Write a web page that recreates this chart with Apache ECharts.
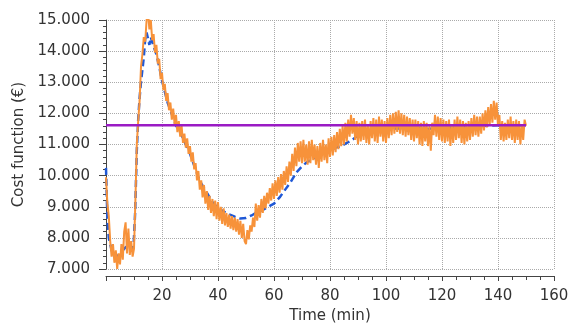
<!DOCTYPE html>
<html>
<head>
<meta charset="utf-8">
<script src="https://cdn.jsdelivr.net/npm/echarts@6/dist/echarts.min.js"></script>
<style>
  html, body { margin: 0; padding: 0; background: #fff; }
  #chart { width: 569px; height: 324px; }
</style>
</head>
<body>
<div id="chart"></div>
<script>
// time (min), cost (€) - measured series (orange)
const measured = [
  [0, 9950], [0.5, 9100], [1, 8700], [1.5, 7900], [2, 7400], [2.5, 7800], [3, 7200], [3.5, 7600], [4, 7000], [4.5, 7500],
  [5, 7150], [5.5, 7800], [6, 7300], [6.5, 8200], [7, 8500], [7.5, 7500], [8, 8300], [8.5, 7450], [9, 7900], [9.5, 7400],
  [10, 7650], [10.5, 9200], [11, 11000], [11.5, 11750], [12, 12400], [12.5, 13500], [13, 13900], [13.5, 14450], [14, 14300], [14.5, 15000],
  [15, 15250], [15.5, 14700], [16, 15000], [16.5, 14350], [17, 14550], [17.5, 13950], [18, 14200], [18.5, 13600], [19, 13750], [19.5, 13100],
  [20, 13300], [20.5, 12750], [21, 12950], [21.5, 12400], [22, 12650], [22.5, 12100], [23, 12350], [23.5, 11800], [24, 12150], [24.5, 11650],
  [25, 11950], [25.5, 11400], [26, 11750], [26.5, 11250], [27, 11600], [27.5, 11050], [28, 11350], [28.5, 10900], [29, 11200], [29.5, 10700],
  [30, 10950], [30.5, 10450], [31, 10750], [31.5, 10200], [32, 10400], [32.5, 9850], [33, 10150], [33.5, 9550], [34, 9850], [34.5, 9300],
  [35, 9700], [35.5, 9100], [36, 9500], [36.5, 8900], [37, 9350], [37.5, 8800], [38, 9250], [38.5, 8700], [39, 9200], [39.5, 8600],
  [40, 9150], [40.5, 8550], [41, 9000], [41.5, 8450], [42, 8950], [42.5, 8400], [43, 8800], [43.5, 8350], [44, 8750], [44.5, 8300],
  [45, 8700], [45.5, 8250], [46, 8650], [46.5, 8200], [47, 8600], [47.5, 8100], [48, 8550], [48.5, 8000], [49, 8450], [49.5, 7900],
  [50, 7800], [50.5, 8250], [51, 7950], [51.5, 8400], [52, 8200], [52.5, 8650], [53, 8350], [53.5, 9100], [54, 8550], [54.5, 9050],
  [55, 8650], [55.5, 9250], [56, 8800], [56.5, 9350], [57, 8950], [57.5, 9450], [58, 9100], [58.5, 9600], [59, 9200], [59.5, 9750],
  [60, 9250], [60.5, 9850], [61, 9350], [61.5, 9950], [62, 9450], [62.5, 10050], [63, 9550], [63.5, 10150], [64, 9700], [64.5, 10300],
  [65, 9800], [65.5, 10450], [66, 10000], [66.5, 10700], [67, 10150], [67.5, 10900], [68, 10300], [68.5, 11050], [69, 10450], [69.5, 11100],
  [70, 10400], [70.5, 11150], [71, 10450], [71.5, 11000], [72, 10350], [72.5, 11100], [73, 10400], [73.5, 11150], [74, 10500], [74.5, 11000],
  [75, 10350], [75.5, 10950], [76, 10250], [76.5, 11050], [77, 10450], [77.5, 11150], [78, 10500], [78.5, 11000], [79, 10400], [79.5, 11200],
  [80, 10600], [80.5, 11250], [81, 10650], [81.5, 11300], [82, 10750], [82.5, 11400], [83, 10850], [83.5, 11500], [84, 10950], [84.5, 11600],
  [85, 11000], [85.5, 11700], [86, 11100], [86.5, 11800], [87, 11250], [87.5, 11950], [88, 11350], [88.5, 11850], [89, 11150], [89.5, 11750],
  [90, 11000], [90.5, 11700], [91, 11100], [91.5, 11750], [92, 11150], [92.5, 11800], [93, 11050], [93.5, 11650], [94, 11000], [94.5, 11750],
  [95, 11200], [95.5, 11850], [96, 11100], [96.5, 11800], [97, 11050], [97.5, 11900], [98, 11250], [98.5, 11800], [99, 11100], [99.5, 11750],
  [100, 11050], [100.5, 11850], [101, 11200], [101.5, 11950], [102, 11300], [102.5, 12000], [103, 11350], [103.5, 12050], [104, 11400], [104.5, 12100],
  [105, 11350], [105.5, 12000], [106, 11300], [106.5, 11950], [107, 11250], [107.5, 11900], [108, 11300], [108.5, 11850], [109, 11150], [109.5, 11800],
  [110, 11100], [110.5, 11800], [111, 11200], [111.5, 11750], [112, 11000], [112.5, 11700], [113, 10950], [113.5, 11750], [114, 11100], [114.5, 11700],
  [115, 10950], [115.5, 11600], [116, 10800], [116.5, 11700], [117, 11300], [117.5, 11950], [118, 11250], [118.5, 11900], [119, 11150], [119.5, 11850],
  [120, 11100], [120.5, 11800], [121, 11050], [121.5, 11750], [122, 11100], [122.5, 11800], [123, 10950], [123.5, 11650], [124, 11050], [124.5, 11800],
  [125, 11150], [125.5, 11900], [126, 11200], [126.5, 11800], [127, 11050], [127.5, 11750], [128, 11000], [128.5, 11700], [129, 11100], [129.5, 11750],
  [130, 11150], [130.5, 11850], [131, 11250], [131.5, 11950], [132, 11300], [132.5, 11900], [133, 11250], [133.5, 11900], [134, 11350], [134.5, 12000],
  [135, 11450], [135.5, 12100], [136, 11550], [136.5, 12200], [137, 11600], [137.5, 12300], [138, 11700], [138.5, 12400], [139, 11800], [139.5, 12350],
  [140, 11600], [140.5, 11950], [141, 11150], [141.5, 11750], [142, 11100], [142.5, 11700], [143, 11150], [143.5, 11800], [144, 11200], [144.5, 11900],
  [145, 11150], [145.5, 11750], [146, 11050], [146.5, 11800], [147, 11150], [147.5, 11750], [148, 11000], [148.5, 11650], [149, 11150], [149.5, 11800],
  [150, 11600]
];

// time (min), cost (€) - model series (dashed blue)
const model = [
  [0, 10250], [0.5, 8600], [1, 8000], [2, 7600], [3, 7400], [4, 7400], [5, 7500], [6, 7600], [7, 7700], [8, 7750],
  [9, 7700], [9.8, 7650], [10.4, 8800], [11, 10800], [11.5, 11800], [12, 12500], [12.5, 13000], [13, 13400], [13.5, 13800], [14, 14400],
  [14.5, 14600], [15, 14550], [15.5, 14200], [16, 14450], [16.5, 14300], [17, 14150], [18, 13900], [19, 13500], [20, 13050], [21, 12700],
  [22, 12350], [23, 12100], [24, 11850], [25, 11600], [26, 11500], [27, 11300], [28, 11100], [29, 10900], [30, 10700], [31, 10450],
  [32, 10200], [33, 9950], [34, 9750], [35, 9600], [36, 9450], [37, 9300], [38, 9150], [39, 9050], [40, 8950], [42, 8850],
  [44, 8750], [46, 8680], [48, 8620], [50, 8640], [52, 8720], [54, 8830], [56, 8900], [58, 9000], [60, 9100], [62, 9300],
  [64, 9550], [66, 9800], [68, 10100], [70, 10300], [72, 10450], [74, 10550], [76, 10650], [78, 10700], [80, 10800], [82, 10900],
  [84, 10950], [86, 11050], [88, 11150], [90, 11300], [95, 11400], [100, 11500], [105, 11520], [108, 11450], [110, 11550], [115, 11500],
  [120, 11550], [125, 11550], [130, 11600], [135, 11600], [140, 11620], [145, 11620], [150, 11620]
];

// reference level (purple)
const reference = [[0, 11620], [150, 11620]];

const font = "DejaVu Sans";
const textColor = "#333";

var chart = echarts.init(document.getElementById("chart"));

chart.setOption({
  animation: false,
  grid: { left: 106, right: 15, top: 20, bottom: 55, outerBoundsMode: "none" },
  xAxis: {
    type: "value",
    min: 0,
    max: 160,
    interval: 20,
    offset: 7,
    name: "Time (min)",
    nameLocation: "middle",
    nameGap: 32,
    nameTextStyle: { fontFamily: font, fontSize: 15, color: textColor },
    axisLine: { lineStyle: { color: "#444", width: 1 } },
    axisTick: { length: 5, lineStyle: { color: "#444" } },
    minorTick: { show: true, splitNumber: 4, length: 4, lineStyle: { color: "#444" } },
    axisLabel: {
      fontFamily: font, fontSize: 15, color: textColor, margin: 13,
      showMinLabel: false,
    },
    splitLine: { show: true, lineStyle: { type: "dotted", color: "#aaa", width: 1 } },
  },
  yAxis: {
    type: "value",
    min: 7000,
    max: 15000,
    interval: 1000,
    offset: 8,
    name: "Cost function (€)",
    nameLocation: "middle",
    nameGap: 68,
    nameTextStyle: { fontFamily: font, fontSize: 15, color: textColor },
    axisLine: { show: true, lineStyle: { color: "#444", width: 1 } },
    axisTick: { show: true, length: 7, lineStyle: { color: "#444" } },
    minorTick: { show: true, splitNumber: 5, length: 3, lineStyle: { color: "#444" } },
    axisLabel: {
      fontFamily: font, fontSize: 15, color: textColor, margin: 8,
      formatter: (v) => (v / 1000).toFixed(3),
    },
    splitLine: { show: true, lineStyle: { type: "dotted", color: "#aaa", width: 1 } },
  },
  series: [
    {
      name: "model",
      type: "line",
      data: model,
      showSymbol: false,
      lineStyle: { color: "#1f58d6", width: 2.5, type: [7, 4] },
    },
    {
      name: "measured",
      type: "line",
      data: measured,
      showSymbol: false,
      lineStyle: { color: "#f7923a", width: 2 },
    },
    {
      name: "reference",
      type: "line",
      data: reference,
      showSymbol: false,
      lineStyle: { color: "#9a1bc4", width: 2.5 },
    },
  ],
});
</script>
</body>
</html>
